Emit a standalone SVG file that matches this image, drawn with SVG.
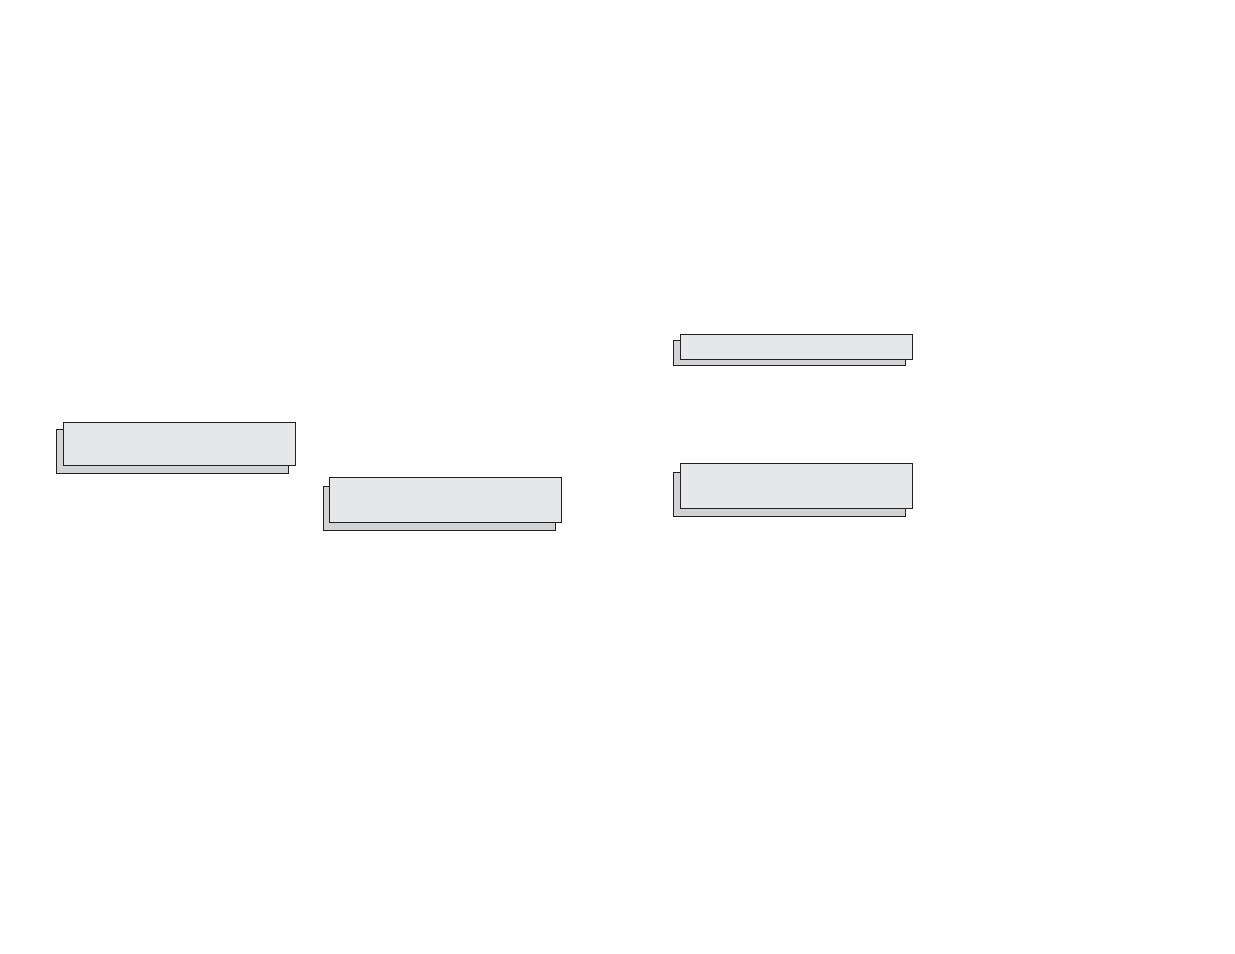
<svg xmlns="http://www.w3.org/2000/svg" width="1235" height="954" viewBox="0 0 1235 954">
<style>
.sh{fill:#d1d3d4;stroke:#231f20;stroke-width:1}
.fr{fill:#e6e7e8;stroke:#231f20;stroke-width:1}
</style>
<rect width="1235" height="954" fill="#ffffff"/>
<g id="node1">
<rect class="sh" x="56.5" y="429.5" width="232" height="44"/>
<rect class="fr" x="63.5" y="422.5" width="232" height="43"/>
</g>
<g id="node2">
<rect class="sh" x="323.5" y="486.5" width="232" height="44"/>
<rect class="fr" x="329.5" y="477.5" width="232" height="45"/>
</g>
<g id="node3">
<rect class="sh" x="673.5" y="340.5" width="232" height="25"/>
<rect class="fr" x="680.5" y="334.5" width="232" height="25"/>
</g>
<g id="node4">
<rect class="sh" x="673.5" y="472.5" width="232" height="44"/>
<rect class="fr" x="680.5" y="463.5" width="232" height="45"/>
</g>
<g id="connectors"></g>
</svg>
